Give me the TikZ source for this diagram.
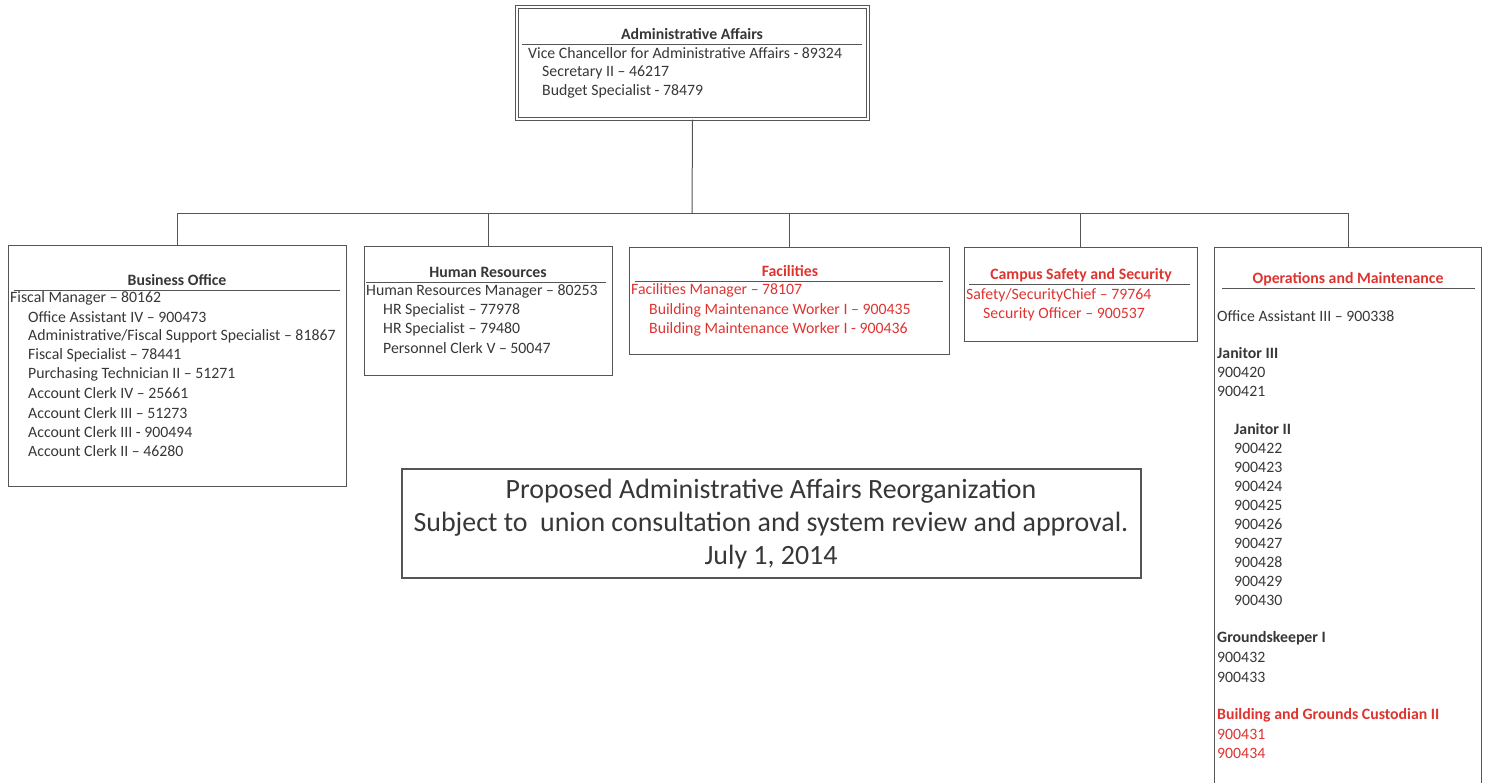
\documentclass[tikz,border=0pt]{standalone}
\usepackage{fontspec}
\setmainfont{Carlito}
\definecolor{orgred}{RGB}{222,52,48}
\definecolor{orgtext}{RGB}{55,55,55}
\definecolor{orgline}{RGB}{85,85,85}
\tikzset{
  unitbox/.style={draw=orgline, line width=1pt, inner sep=0pt},
  unittitle/.style={inner sep=0pt, text=orgtext, font=\bfseries\fontsize{15.8}{17}\selectfont},
  entry/.style={anchor=west, inner sep=0pt, text=orgtext, font=\fontsize{15.8}{17}\selectfont},
  boldentry/.style={entry, font=\bfseries\fontsize{15.8}{17}\selectfont},
  rule/.style={orgline, line width=1pt},
  link/.style={orgline, line width=1pt},
}
\begin{document}
\begin{tikzpicture}[x=1pt,y=-1pt]
\useasboundingbox (0,0) rectangle (1488,782);

% Oficina principal
\node[unitbox, double, double distance=2.5pt, minimum width=351pt, minimum height=112pt] (admin) at (692.5,63) {};
\node[unittitle] (admin-t) at (692,34) {Administrative Affairs};
\draw[rule] (522,44) -- (862,44);
\node[entry] (admin-1) at (528,53) {Vice Chancellor for Administrative Affairs - 89324};
\node[entry] (admin-2) at (542,72) {Secretary II – 46217};
\node[entry] (admin-3) at (542,91) {Budget Specialist - 78479};

% Cajas de las unidades
\node[unitbox, minimum width=338pt, minimum height=241pt] (bo) at (177,365.5) {};
\node[unitbox, minimum width=248pt, minimum height=129pt] (hr) at (488,310.5) {};
\node[unitbox, minimum width=320pt, minimum height=107pt] (fac) at (789,300.5) {};
\node[unitbox, minimum width=233pt, minimum height=94pt] (css) at (1080.5,294) {};
\node[minimum width=266pt, minimum height=554pt, inner sep=0pt] (ops) at (1348,525) {};
\draw[link] (ops.south west) -- (ops.north west) -- (ops.north east) -- (ops.south east);

% Conectores
\coordinate (bus) at (692,213);
\draw[link] (admin.south) -- (bus);
\draw[link] (bus) -| (bo.north);
\draw[link] (bus) -| (hr.north);
\draw[link] (bus) -| (fac.north);
\draw[link] (bus) -| (css.north);
\draw[link] (bus) -| (ops.north);

% Business Office
\node[unittitle] (bo-t) at (177,280) {Business Office};
\draw[rule] (14,290) -- (340,290);
\node[entry] (bo-0) at (10,298) {Fiscal Manager – 80162};
\foreach \t [count=\i] in {Office Assistant IV – 900473,
    {Administrative/Fiscal Support Specialist – 81867},
    Fiscal Specialist – 78441, Purchasing Technician II – 51271,
    Account Clerk IV – 25661, Account Clerk III – 51273,
    Account Clerk III - 900494, Account Clerk II – 46280}
  \node[entry] (bo-\i) at (28,{298+19.1*\i}) {\t};

% Human Resources
\node[unittitle] (hr-t) at (488,272) {Human Resources};
\draw[rule] (366,282) -- (606,282);
\node[entry] (hr-0) at (366,291) {Human Resources Manager – 80253};
\node[entry] (hr-1) at (383,310) {HR Specialist – 77978};
\node[entry] (hr-2) at (383,329) {HR Specialist – 79480};
\node[entry] (hr-3) at (383,348) {Personnel Clerk V – 50047};

% Facilities
\node[unittitle, text=orgred] (fac-t) at (790,271) {Facilities};
\draw[rule] (635,281) -- (943,281);
\node[entry, text=orgred] (fac-0) at (631,290) {Facilities Manager – 78107};
\node[entry, text=orgred] (fac-1) at (649,310) {Building Maintenance Worker I – 900435};
\node[entry, text=orgred] (fac-2) at (649,329) {Building Maintenance Worker I - 900436};

% Campus Safety and Security
\node[unittitle, text=orgred] (css-t) at (1081,275) {Campus Safety and Security};
\draw[rule] (969,284) -- (1190,284);
\node[entry, text=orgred] (css-0) at (966,295) {Safety/SecurityChief – 79764};
\node[entry, text=orgred] (css-1) at (983,314) {Security Officer – 900537};

% Operations and Maintenance
\node[unittitle, text=orgred] (ops-t) at (1348,279) {Operations and Maintenance};
\draw[rule] (1222,288) -- (1475,288);
\node[entry] (ops-oa) at (1217,316) {Office Assistant III – 900338};
\node[boldentry] (ops-j3) at (1217,353) {Janitor III};
\node[entry] (ops-j3a) at (1217,372) {900420};
\node[entry] (ops-j3b) at (1217,391) {900421};
\node[boldentry] (ops-j2) at (1234,429) {Janitor II};
\foreach \n [count=\i from 0] in {900422,900423,900424,900425,900426,900427,900428,900429,900430}
  \node[entry] (ops-j2-\i) at (1234,{448+19.1*\i}) {\n};
\node[boldentry] (ops-g) at (1217,638) {Groundskeeper I};
\node[entry] (ops-ga) at (1217,657) {900432};
\node[entry] (ops-gb) at (1217,677) {900433};
\node[boldentry, text=orgred] (ops-b) at (1217,715) {Building and Grounds Custodian II};
\node[entry, text=orgred] (ops-ba) at (1217,734) {900431};
\node[entry, text=orgred] (ops-bb) at (1217,753) {900434};

% Nota
\node[draw=orgline, line width=2pt, minimum width=739pt, minimum height=109pt, inner sep=0pt] (note) at (771.5,523.5) {};
\node[inner sep=0pt, text=orgtext, align=center, font=\fontsize{27.9}{33}\selectfont] (note-t) at (771,524)
  {Proposed Administrative Affairs Reorganization\\
   Subject to\ \ union consultation and system review and approval.\\
   July 1, 2014};
\end{tikzpicture}
\end{document}
